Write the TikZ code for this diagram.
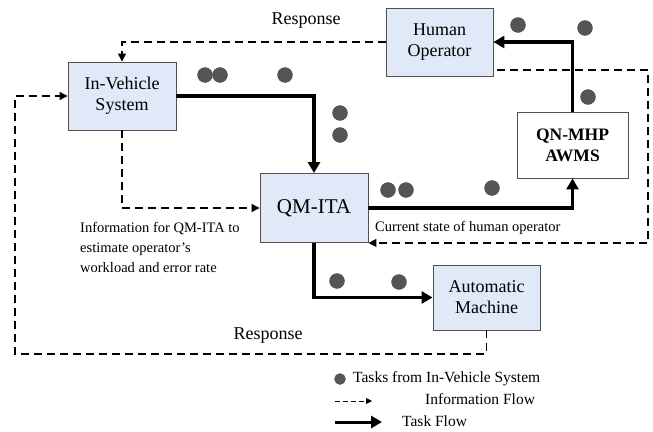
\documentclass[tikz,border=0pt]{standalone}
\usepackage{fontspec}
\setmainfont{Liberation Serif}
\usetikzlibrary{arrows.meta,calc}
\definecolor{boxfill}{HTML}{E1E8F7}
\definecolor{boxline}{HTML}{505050}
\definecolor{dotc}{HTML}{555555}
\begin{document}
\begin{tikzpicture}[x=1pt,y=-1pt,
  box/.style={draw=boxline,line width=0.9pt,fill=boxfill,align=center,inner sep=2pt,font=\fontsize{18}{21}\selectfont},
  task/.style={line width=3.4pt,-{Triangle[length=11pt,width=12pt]}},
  info/.style={line width=1.2pt,dash pattern=on 8pt off 5pt,-{Triangle[length=8pt,width=8pt]}},
  dot/.style={circle,fill=dotc,draw=dotc!80!black,line width=0.3pt,minimum size=15pt,inner sep=0pt},
  lbl/.style={font=\fontsize{14.5}{20}\selectfont,inner sep=0pt},
  leg/.style={inner sep=0pt,anchor=west,font=\fontsize{15.5}{18}\selectfont}
]
\useasboundingbox (0,0) rectangle (653,431);
\fill[white] (0,0) rectangle (653,431);

% boxes
\node[box,minimum width=108pt,minimum height=68pt] (iv) at (122,96) {In-Vehicle\\System};
\node[box,minimum width=107pt,minimum height=68pt] (ho) at (439.5,42) {Human\\Operator};
\node[box,fill=white,minimum width=111pt,minimum height=66pt,font=\fontsize{17.5}{21}\selectfont\bfseries] (qn) at (572.5,145) {QN-MHP\\AWMS};
\node[box,minimum width=108pt,minimum height=69pt,font=\fontsize{21}{24}\selectfont] (qm) at (314,208) {QM-ITA};
\node[box,minimum width=107pt,minimum height=65pt] (am) at (486.5,297.5) {Automatic\\Machine};

% coordinates
\coordinate (hoout) at (497,70);
\coordinate (cs) at (648,70);
\coordinate (bl) at (15,354);

% task flows
\draw[task] (iv.east) -| (qm.north);
\draw[task] (qm.east) -| (qn.south);
\draw[task] (qn.north) |- (ho.east);
\draw[task] (qm.south) |- (am.west);

% information flows
\draw[info] (ho.west) -| (iv.north);
\draw[info] (iv.south) |- (qm.west);
\draw[info] (hoout) -- (cs) |- (qm.south east);
\draw[info] (am.south) |- (bl) |- (iv.west);

% labels
\node[lbl,font=\fontsize{18}{20}\selectfont] (resp1) at (306,21) {Response};
\node[lbl,font=\fontsize{18}{20}\selectfont] (resp2) at (268,336) {Response};
\node[lbl,anchor=north west,align=left] (infotxt) at (80,222) {Information for QM-ITA to\\estimate operator's\\workload and error rate};
\node[lbl,anchor=west] (curtxt) at (375,228) {Current state of human operator};

% task dots
\foreach \n/\x/\y in {d1/205/75,d2/220/75,d3/285/75,d4/340/113,d5/340/135,d6/388/190,d7/406/190,d8/492/188,d9/518/25,d10/585/28,d11/588/97,d12/337/281,d13/399/282}
  \node[dot] (\n) at (\x,\y) {};

% legend
\node[dot,minimum size=11pt] (ldot) at (340,379) {};
\node[leg] (ltask) at (353,379) {Tasks from In-Vehicle System};
\coordinate (li1) at (335,401);
\coordinate (li2) at (372,401);
\draw[line width=0.9pt,dash pattern=on 5pt off 3pt,-{Triangle[length=6pt,width=6pt]}] (li1) -- (li2);
\node[leg] (linfo) at (425,399) {Information Flow};
\coordinate (lt1) at (335,422);
\coordinate (lt2) at (382,422);
\draw[line width=3pt,-{Triangle[length=11pt,width=12pt]}] (lt1) -- (lt2);
\node[leg] (ltf) at (402,421) {Task Flow};
\end{tikzpicture}
\end{document}
